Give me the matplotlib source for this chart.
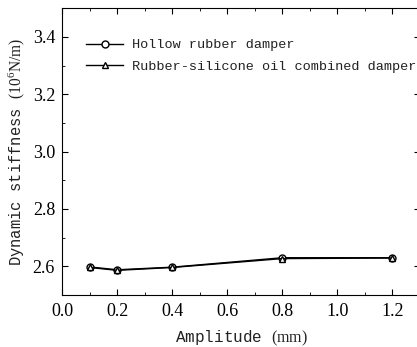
import numpy as np
import matplotlib.pyplot as plt
from matplotlib.ticker import MultipleLocator

plt.rcParams['mathtext.fontset'] = 'custom'
plt.rcParams['mathtext.rm'] = 'Liberation Serif'

# amplitude (mm) and dynamic stiffness (10^6 N/m)
amplitude = [0.1, 0.2, 0.4, 0.8, 1.2]
hollow = [2.598, 2.588, 2.597, 2.630, 2.630]
combined = [2.596, 2.586, 2.596, 2.627, 2.629]

fig = plt.figure(figsize=(4.17, 3.47), dpi=100)
ax = fig.add_axes([62/417, 52/347, 358/417, 286.7/347])

ax.plot(amplitude, hollow, '-o', color='black', lw=1, ms=5, mfc='white', mew=1,
        label='Hollow rubber damper')
ax.plot(amplitude, combined, '-^', color='black', lw=1, ms=5, mfc='white', mew=1,
        label='Rubber-silicone oil combined damper')

ax.set_xlim(0, 1.3)
ax.set_ylim(2.5, 3.5)
ax.xaxis.set_major_locator(MultipleLocator(0.2))
ax.xaxis.set_minor_locator(MultipleLocator(0.1))
ax.yaxis.set_major_locator(MultipleLocator(0.2))
ax.yaxis.set_minor_locator(MultipleLocator(0.1))
ax.set_yticks([2.6, 2.8, 3.0, 3.2, 3.4])
ax.spines['right'].set_visible(False)
ax.tick_params(which='both', direction='in', top=True, right=True)
ax.tick_params(which='major', length=4)
ax.tick_params(which='minor', length=2)
ax.tick_params(axis='x', which='major', pad=6)
ax.tick_params(axis='y', which='major', pad=5)
for lab in ax.get_xticklabels() + ax.get_yticklabels():
    lab.set_fontfamily('Liberation Serif')
    lab.set_fontsize(13)

ax.set_xlabel('Amplitude $\\mathrm{(mm)}$', family='Liberation Mono', fontsize=11.5,
              color='#222222', labelpad=6)
ax.set_ylabel('Dynamic stiffness $\\mathrm{(10^6N/m)}$', family='Liberation Mono',
              fontsize=11.2, color='#222222', labelpad=4)

ax.legend(loc='upper left', bbox_to_anchor=(0.051, 0.912), frameon=False,
          prop={'family': 'Liberation Mono', 'size': 9.7}, labelcolor='#222222',
          handlelength=2.8, handletextpad=0.65, labelspacing=0.7, borderaxespad=0)

fig.savefig('out.png', dpi=100)
